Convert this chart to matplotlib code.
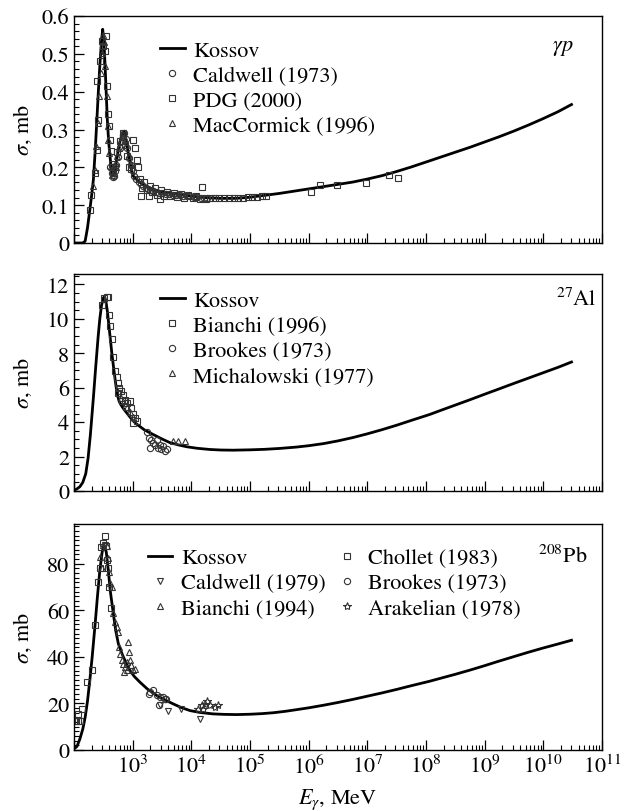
import numpy as np
import matplotlib
matplotlib.use("Agg")
import matplotlib.pyplot as plt
from matplotlib.ticker import LogLocator, MultipleLocator, FuncFormatter, NullFormatter

plt.rcParams['font.family'] = ['STIXGeneral', 'DejaVu Serif']
plt.rcParams['mathtext.fontset'] = 'stix'

# ---------------- gamma p ----------------
p_kossov_logE = [2.0, 2.15, 2.19, 2.23, 2.27, 2.3, 2.33, 2.36, 2.387, 2.415, 2.443, 2.467, 2.489,
                 2.51, 2.528, 2.548, 2.568, 2.59, 2.613, 2.635, 2.66, 2.69, 2.727, 2.77, 2.81,
                 2.857, 2.89, 2.925, 2.97, 3.01, 3.1, 3.2, 3.3, 3.4, 3.5, 3.65, 3.8, 4.0, 4.25,
                 4.5, 4.75, 5.0, 5.25, 5.5, 5.75, 6.0, 6.25, 6.5, 6.75, 7.0, 7.25, 7.5, 7.75,
                 8.0, 8.25, 8.5, 8.75, 9.0, 9.25, 9.5, 9.75, 10.0, 10.25, 10.48]
p_kossov_sig = [0.0, 0.0, 0.005, 0.04, 0.088, 0.125, 0.167, 0.24, 0.317, 0.4, 0.476, 0.53, 0.565,
                0.53, 0.476, 0.4, 0.326, 0.27, 0.23, 0.197, 0.177, 0.185, 0.22, 0.26, 0.283,
                0.295, 0.27, 0.238, 0.2, 0.177, 0.163, 0.152, 0.145, 0.139, 0.135, 0.131, 0.128,
                0.124, 0.12, 0.118, 0.118, 0.121, 0.126, 0.131, 0.137, 0.143, 0.149, 0.155,
                0.161, 0.169, 0.178, 0.189, 0.201, 0.214, 0.227, 0.24, 0.253, 0.267, 0.281,
                0.296, 0.312, 0.329, 0.347, 0.366]

p_cald_logE = [2.62, 2.64, 2.66, 2.68, 2.70, 2.72, 2.75, 2.78, 2.81, 2.84, 2.86, 2.88, 2.91, 2.94,
               2.97, 3.00, 3.03, 3.06, 3.10, 3.14, 3.18, 3.22, 3.26, 3.30, 3.35, 3.40, 3.45, 3.50,
               3.56, 3.62, 3.68, 3.74, 3.80, 3.86, 3.92, 3.98, 4.04, 4.10, 4.16, 4.22, 4.27]
p_cald_sig = [0.2, 0.185, 0.175, 0.178, 0.19, 0.205, 0.228, 0.25, 0.27, 0.285, 0.29, 0.275, 0.25,
              0.225, 0.205, 0.19, 0.178, 0.168, 0.16, 0.155, 0.15, 0.146, 0.142, 0.14, 0.137,
              0.135, 0.133, 0.131, 0.13, 0.129, 0.128, 0.127, 0.126, 0.125, 0.124, 0.123, 0.122,
              0.121, 0.12, 0.119, 0.118]

p_pdg_logE = [2.27, 2.295, 2.36, 2.40, 2.41, 2.40, 2.44, 2.48, 2.50, 2.52, 2.54, 2.557, 2.585,
              2.60, 2.61, 2.63, 2.65, 2.67, 2.70, 2.74, 2.79, 2.83, 2.87, 2.90, 2.93, 2.98,
              3.01, 3.04, 3.07, 3.09, 3.12, 3.14, 3.16, 3.20, 3.24, 3.28, 3.30, 3.33, 3.38,
              3.42, 3.465, 3.48, 3.53, 3.58, 3.63, 3.70, 3.75, 3.82, 3.88, 3.95, 4.02, 4.08,
              4.14, 4.19, 4.25, 4.32, 4.40, 4.48, 4.56, 4.64, 4.72, 4.80, 4.88, 4.96, 5.04,
              5.12, 5.20, 5.27, 6.04, 6.19, 6.475, 6.97, 7.37, 7.53]
p_pdg_sig = [0.088, 0.128, 0.185, 0.247, 0.326, 0.428, 0.48, 0.534, 0.52, 0.507, 0.547, 0.415, 0.34,
             0.309, 0.273, 0.243, 0.21, 0.19, 0.2, 0.24, 0.27, 0.29, 0.26, 0.23, 0.2, 0.195,
             0.273, 0.251, 0.22, 0.2, 0.17, 0.123, 0.145, 0.16, 0.14, 0.123, 0.15, 0.135, 0.145,
             0.128, 0.117, 0.14, 0.125, 0.135, 0.124, 0.132, 0.122, 0.13, 0.12, 0.128, 0.12, 0.125,
             0.117, 0.147, 0.115, 0.119, 0.12, 0.118, 0.119, 0.12, 0.119, 0.12, 0.12, 0.121, 0.121,
             0.122, 0.123, 0.124, 0.134, 0.154, 0.154, 0.159, 0.181, 0.172]

p_macc_logE = [2.33, 2.35, 2.375, 2.41, 2.43, 2.455, 2.47, 2.49, 2.51, 2.53, 2.557, 2.574, 2.585,
               2.60, 2.625, 2.65, 2.68, 2.71, 2.74, 2.77, 2.80, 2.83, 2.86, 2.89, 2.93, 2.97]
p_macc_sig = [0.15, 0.194, 0.256, 0.317, 0.388, 0.45, 0.503, 0.55, 0.53, 0.467, 0.388, 0.309, 0.273,
              0.238, 0.203, 0.18, 0.185, 0.2, 0.23, 0.25, 0.27, 0.285, 0.28, 0.26, 0.23, 0.21]

# ---------------- 27Al ----------------
al_kossov_logE = [2.0, 2.05, 2.1, 2.15, 2.2, 2.24, 2.28, 2.33, 2.37, 2.41, 2.44, 2.47, 2.5, 2.52,
                  2.545, 2.57, 2.6, 2.62, 2.645, 2.67, 2.7, 2.72, 2.75, 2.77, 2.81, 2.85, 2.93,
                  3.0, 3.07, 3.2, 3.35, 3.5, 3.64, 3.8, 3.92, 4.1, 4.32, 4.5, 4.71, 5.0, 5.25,
                  5.5, 5.79, 6.0, 6.25, 6.5, 6.75, 7.0, 7.25, 7.5, 7.75, 8.06, 8.25, 8.5, 8.75,
                  9.0, 9.2, 9.5, 9.75, 10.0, 10.25, 10.48]
al_kossov_sig = [0.05, 0.12, 0.25, 0.5, 1.0, 1.9, 3.3, 5.4, 7.2, 8.9, 10.0, 10.8, 11.2, 11.3,
                 11.0, 10.4, 9.45, 8.8, 8.0, 7.3, 6.5, 6.0, 5.45, 5.2, 4.95, 4.75, 4.4,
                 4.1, 3.88, 3.55, 3.28, 3.02, 2.8, 2.66, 2.57, 2.48, 2.41, 2.38, 2.37, 2.39, 2.42,
                 2.47, 2.55, 2.63, 2.75, 2.91, 3.1, 3.32, 3.56, 3.82, 4.1, 4.44, 4.68, 4.99, 5.3,
                 5.62, 5.87, 6.25, 6.56, 6.87, 7.18, 7.49]

al_bianchi_logE = [2.48, 2.517, 2.56, 2.585, 2.596, 2.613, 2.64, 2.66, 2.70, 2.727, 2.755, 2.77,
                   2.795, 2.84, 2.87, 2.91, 2.955, 2.98, 3.01, 3.04, 3.01, 3.07, 2.75, 2.82, 2.88]
al_bianchi_sig = [10.8, 11.2, 11.25, 11.25, 10.2, 9.6, 8.8, 7.8, 6.95, 6.6, 6.27, 6.0,
                  5.8, 5.55, 5.3, 5.1, 5.2, 4.8, 4.45, 4.25, 3.95, 4.05, 5.7, 5.2, 4.9]

al_brookes_logE = [3.24, 3.27, 3.29, 3.32, 3.35, 3.38, 3.41, 3.44, 3.46, 3.49, 3.52, 3.55, 3.58]
al_brookes_sig = [3.4, 3.09, 2.5, 2.99, 2.8, 2.7, 2.99, 2.5, 2.7, 2.41, 2.6, 2.32, 2.41]

al_mich_logE = [2.80, 2.90, 2.95, 3.00, 3.69, 3.78, 3.89]
al_mich_sig = [5.4, 4.9, 4.6, 4.3, 2.9, 2.9, 2.88]

# ---------------- 208Pb ----------------
pb_kossov_logE = [2.0, 2.05, 2.1, 2.15, 2.19, 2.23, 2.27, 2.31, 2.36, 2.4, 2.44, 2.48, 2.51, 2.55,
                  2.585, 2.62, 2.67, 2.71, 2.755, 2.8, 2.84, 2.9, 2.95, 3.03, 3.12, 3.25, 3.41,
                  3.55, 3.69, 3.83, 3.98, 4.15, 4.37, 4.55, 4.77, 5.0, 5.2, 5.4, 5.6, 5.79,
                  6.0, 6.25, 6.5, 6.75, 7.0, 7.25, 7.5, 7.75, 8.06, 8.25, 8.5, 8.75, 9.0, 9.2,
                  9.5, 9.75, 10.0, 10.25, 10.48]
pb_kossov_sig = [0.5, 1.5, 4.7, 9.0, 14.0, 21.0, 30.0, 40.0, 54.0, 66.0, 77.0, 85.0, 88.0, 85.0,
                 77.0, 68.0, 58.6, 51.5, 45.7, 42.5, 40.0, 36.8, 34.2, 31.5, 29.2, 26.2, 23.4,
                 21.5, 19.8, 18.2, 16.9, 16.1, 15.5, 15.3, 15.2, 15.35, 15.6, 16.0, 16.6, 17.3,
                 18.1, 19.2, 20.4, 21.7, 23.1, 24.5, 26.0, 27.6, 29.5, 30.8, 32.5, 34.3, 36.2, 37.8,
                 40.1, 42.0, 43.8, 45.5, 47.1]

pb_cald_logE = [2.53, 3.465, 3.61, 3.83, 4.15]
pb_cald_sig = [88.0, 19.1, 16.9, 17.4, 13.4]

pb_bianchi_logE = [2.44, 2.47, 2.50, 2.556, 2.585, 2.60, 2.61, 2.64, 2.67, 2.70, 2.727, 2.755, 2.77,
                   2.78, 2.81, 2.83, 2.85, 2.87, 2.90, 2.91, 2.925, 2.94, 2.955, 2.98, 3.01, 3.04]
pb_bianchi_sig = [83.0, 78.0, 88.0, 87.4, 82.3, 76.6, 71.6, 70.1, 58.6, 55.0, 52.9, 50.7, 44.3,
                  41.4, 38.5, 37.0, 33.5, 35.6, 37.8, 34.2, 46.4, 42.1, 38.5, 36.3, 34.2, 34.9]

pb_chollet_logE = [2.02, 2.04, 2.07, 2.10, 2.07, 2.13, 2.23, 2.30, 2.36, 2.41, 2.44, 2.46, 2.50,
                   2.53, 2.54, 2.556, 2.585, 2.60, 2.625]
pb_chollet_sig = [12.6, 12.6, 12.6, 12.6, 15.5, 17.7, 29.2, 34.2, 53.6, 72.3, 78.0, 87.0, 88.8,
                  91.7, 87.4, 81.6, 78.0, 70.1, 60.8]

pb_brookes_logE = [3.27, 3.29, 3.35, 3.41, 3.45, 3.46, 3.52, 3.55, 3.57]
pb_brookes_sig = [24.1, 24.9, 25.6, 23.4, 19.1, 22.7, 22.7, 22.0, 22.0]

pb_arak_logE = [4.12, 4.18, 4.20, 4.23, 4.26, 4.32, 4.40, 4.46]
pb_arak_sig = [17.7, 19.1, 17.7, 19.8, 21.2, 19.1, 18.4, 19.1]


def E(logs):
    return 10.0 ** np.array(logs)


W, H = 626, 812
fig = plt.figure(figsize=(W / 100, H / 100), dpi=100)


def add_panel(top, bottom):
    l, r = 74, 602
    return fig.add_axes([l / W, 1 - bottom / H, (r - l) / W, (bottom - top) / H])


ax1 = add_panel(17, 244)
ax2 = add_panel(275, 492)
ax3 = add_panel(525, 751)

FS = 16
mk = dict(ls='none', mfc='none', mec='#333333', mew=0.8, ms=4.5)
lk = dict(color='black', lw=2.0)
leg = dict(loc='upper left', frameon=False, fontsize=FS, handlelength=1.1, handletextpad=0.4,
           labelspacing=0.2, borderpad=0, borderaxespad=0)

# top
ax1.plot(E(p_kossov_logE), p_kossov_sig, label='Kossov', **lk)
ax1.plot(E(p_cald_logE), p_cald_sig, marker='o', label='Caldwell (1973)', **mk)
ax1.plot(E(p_pdg_logE), p_pdg_sig, marker='s', label='PDG (2000)', **mk)
ax1.plot(E(p_macc_logE), p_macc_sig, marker='^', label='MacCormick (1996)', **mk)
ax1.set_ylim(0, 0.6)
ax1.yaxis.set_major_locator(MultipleLocator(0.1))
ax1.yaxis.set_minor_locator(MultipleLocator(0.02))
ax1.text(0.947, 0.863, r'$\gamma p$', transform=ax1.transAxes, ha='right', va='center', fontsize=FS)
ax1.legend(bbox_to_anchor=(0.163, 0.892), **leg)

# middle
ax2.plot(E(al_kossov_logE), al_kossov_sig, label='Kossov', **lk)
ax2.plot(E(al_bianchi_logE), al_bianchi_sig, marker='s', label='Bianchi (1996)', **mk)
ax2.plot(E(al_brookes_logE), al_brookes_sig, marker='o', label='Brookes (1973)', **mk)
ax2.plot(E(al_mich_logE), al_mich_sig, marker='^', label='Michalowski (1977)', **mk)
ax2.set_ylim(0, 12.6)
ax2.yaxis.set_major_locator(MultipleLocator(2))
ax2.yaxis.set_minor_locator(MultipleLocator(0.5))
ax2.text(0.99, 0.885, r'$^{27}$Al', transform=ax2.transAxes, ha='right', va='center', fontsize=FS)
ax2.legend(bbox_to_anchor=(0.163, 0.925), **leg)

# bottom
ax3.plot(E(pb_kossov_logE), pb_kossov_sig, label='Kossov', **lk)
ax3.plot(E(pb_cald_logE), pb_cald_sig, marker='v', label='Caldwell (1979)', **mk)
ax3.plot(E(pb_bianchi_logE), pb_bianchi_sig, marker='^', label='Bianchi (1994)', **mk)
ax3.plot(E(pb_chollet_logE), pb_chollet_sig, marker='s', label='Chollet (1983)', **mk)
ax3.plot(E(pb_brookes_logE), pb_brookes_sig, marker='o', label='Brookes (1973)', **mk)
ax3.plot(E(pb_arak_logE), pb_arak_sig, marker='*', label='Arakelian (1978)',
         **{**mk, 'ms': 6})
ax3.set_ylim(0, 97)
ax3.yaxis.set_major_locator(MultipleLocator(20))
ax3.yaxis.set_minor_locator(MultipleLocator(2))
ax3.text(0.973, 0.858, r'$^{208}$Pb', transform=ax3.transAxes, ha='right', va='center', fontsize=FS)
ax3.legend(bbox_to_anchor=(0.14, 0.895), ncol=2, columnspacing=0.4, **leg)

for ax in (ax1, ax2, ax3):
    ax.set_xscale('log')
    ax.set_xlim(1e2, 1e11)
    ax.xaxis.set_major_locator(LogLocator(base=10, numticks=20))
    ax.xaxis.set_minor_locator(LogLocator(base=10, subs=np.arange(2, 10), numticks=20))
    ax.xaxis.set_minor_formatter(NullFormatter())
    ax.yaxis.set_major_formatter(FuncFormatter(lambda v, p: '%g' % round(v, 3)))
    ax.tick_params(which='both', direction='in', top=False, right=False, labelsize=FS)
    ax.tick_params(which='major', length=7, width=0.9)
    ax.tick_params(which='minor', length=3.5, width=0.8)
    ax.set_ylabel(r'$\sigma$, mb', fontsize=FS)
    ax.yaxis.set_label_coords(-0.075, 0.5)
    for s in ax.spines.values():
        s.set_linewidth(1.0)

ax1.tick_params(labelbottom=False)
ax2.tick_params(labelbottom=False)
ax3.xaxis.set_major_formatter(FuncFormatter(
    lambda v, p: '' if v < 500 else r'$10^{%d}$' % round(np.log10(v))))
ax3.set_xlabel(r'$E_\gamma$, MeV', fontsize=FS, labelpad=6)

fig.savefig('out.png', dpi=100)
